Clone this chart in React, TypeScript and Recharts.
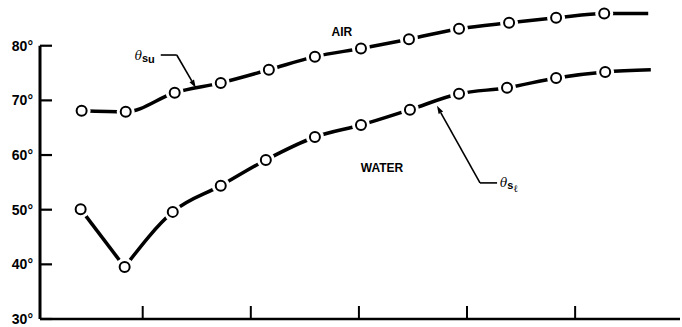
import React from 'react';
import { LineChart, Line, XAxis, YAxis, ReferenceLine, ReferenceDot } from 'recharts';

const yTicks = [30, 40, 50, 60, 70, 80];
const xTicks = [1, 2, 3, 4, 5];

const airX = [0.435, 0.843, 1.296, 1.722, 2.167, 2.593, 3.019, 3.463, 3.926, 4.389, 4.824, 5.269, 5.676];
const airY = [68.1, 67.9, 71.4, 73.2, 75.6, 78.0, 79.5, 81.2, 83.1, 84.2, 85.1, 85.9, 85.9];
const waterX = [0.426, 0.833, 1.278, 1.722, 2.139, 2.593, 3.019, 3.472, 3.926, 4.37, 4.824, 5.278, 5.7];
const waterY = [50.1, 39.5, 49.6, 54.4, 59.1, 63.3, 65.5, 68.3, 71.2, 72.3, 74.1, 75.2, 75.6];

const build = (xs: number[], ys: number[]) =>
  xs.map((x, i) => ({ x, y: ys[i], marker: i < xs.length - 1 }));

const airData = build(airX, airY);
const waterData = build(waterX, waterY);
// the water curve has a sharp minimum: draw its first leg separately
const waterLeg = waterData.slice(0, 2);
const waterRest = waterData.slice(1);

const FONT = '"Liberation Sans", Arial, Helvetica, sans-serif';
const X_MIN = 0.05;
const X_MAX = 5.97;

const Ring = (props: any) => {
  const { cx, cy, payload, index } = props;
  if (!payload || !payload.marker || cx == null || cy == null) return <g key={`e${index}`} />;
  return (
    <g key={`d${index}`}>
      <circle cx={cx} cy={cy} r={9} fill="#fff" />
      <circle cx={cx} cy={cy} r={5} fill="#fff" stroke="#000" strokeWidth={2} />
    </g>
  );
};

const YTick = (props: any) => {
  const { x, y, payload } = props;
  return (
    <g>
      <line x1={x} y1={y} x2={x + 12} y2={y} stroke="#000" strokeWidth={2.2} />
      <text x={x - 7} y={y} dy="0.36em" textAnchor="end" fontFamily={FONT} fontWeight="bold" fontSize={14} fill="#000">
        {payload.value}°
      </text>
    </g>
  );
};

const XTick = (props: any) => {
  const { x, y } = props;
  return <line x1={x} y1={y} x2={x} y2={y - 13} stroke="#000" strokeWidth={2} />;
};

const Arrow = (props: any) => {
  const { x1, y1, x2, y2 } = props;
  const dx = x2 - x1;
  const dy = y2 - y1;
  const len = Math.sqrt(dx * dx + dy * dy) || 1;
  const ux = dx / len;
  const uy = dy / len;
  const L = 8;
  const W = 2.6;
  const bx = x2 - ux * L;
  const by = y2 - uy * L;
  const p = `${x2},${y2} ${bx - uy * W},${by + ux * W} ${bx + uy * W},${by - ux * W}`;
  return (
    <g>
      <line x1={x1} y1={y1} x2={bx} y2={by} stroke="#000" strokeWidth={1.6} />
      <polygon points={p} fill="#000" />
    </g>
  );
};

const PlainLine = (props: any) => {
  const { x1, y1, x2, y2 } = props;
  return <line x1={x1} y1={y1} x2={x2} y2={y2} stroke="#000" strokeWidth={1.6} />;
};

const textShape = (content: React.ReactNode, anchor: string) => (props: any) => {
  const { cx, cy } = props;
  return (
    <text x={cx} y={cy} dy="0.36em" textAnchor={anchor} fontFamily={FONT} fontWeight="bold" fontSize={12} fill="#000">
      {content}
    </text>
  );
};

const ThetaU = (props: any) => {
  const { cx, cy } = props;
  return (
    <text x={cx} y={cy} dy="0.3em" fill="#000">
      <tspan fontFamily='"DejaVu Serif", serif' fontStyle="italic" fontSize={12}>θ</tspan>
      <tspan fontFamily={FONT} fontWeight="bold" fontSize={11} dy={2}>s</tspan>
      <tspan fontFamily={FONT} fontWeight="bold" fontSize={11} dy={1}>u</tspan>
    </text>
  );
};

const ThetaL = (props: any) => {
  const { cx, cy } = props;
  return (
    <text x={cx} y={cy} dy="0.3em" fill="#000">
      <tspan fontFamily='"DejaVu Serif", serif' fontStyle="italic" fontSize={12}>θ</tspan>
      <tspan fontFamily={FONT} fontWeight="bold" fontSize={11} dy={2}>s</tspan>
      <tspan fontFamily='"DejaVu Serif", serif' fontSize={10} dy={3}>ℓ</tspan>
    </text>
  );
};

export default function App() {
  return (
    <div style={{ position: 'absolute', left: 0, top: 0, width: 682, height: 327, background: '#fff' }}>
      <LineChart width={682} height={327} margin={{ top: 2, right: 2, bottom: 0, left: 0 }}>
        <XAxis
          type="number"
          dataKey="x"
          domain={[X_MIN, X_MAX]}
          allowDataOverflow
          ticks={xTicks}
          interval={0}
          height={8}
          tickSize={0}
          tickMargin={0}
          tick={<XTick />}
          axisLine={{ stroke: '#000', strokeWidth: 2.5 }}
        />
        <YAxis
          type="number"
          dataKey="y"
          domain={[30, 88]}
          allowDataOverflow
          ticks={yTicks}
          interval={0}
          width={40}
          tickSize={0}
          tickMargin={0}
          tick={<YTick />}
          axisLine={false}
        />
        <ReferenceLine
          segment={[{ x: X_MIN, y: 30 }, { x: X_MIN, y: 80 }]}
          stroke="#000"
          strokeWidth={3}
          ifOverflow="visible"
        />
        <Line data={airData} dataKey="y" type="monotone" stroke="#000" strokeWidth={3.5} dot={Ring} activeDot={false} isAnimationActive={false} />
        <Line data={waterLeg} dataKey="y" type="linear" stroke="#000" strokeWidth={3.5} dot={Ring} activeDot={false} isAnimationActive={false} />
        <Line data={waterRest} dataKey="y" type="monotone" stroke="#000" strokeWidth={3.5} dot={Ring} activeDot={false} isAnimationActive={false} />
        <ReferenceDot x={2.843} y={82.5} r={0} ifOverflow="visible" shape={textShape('AIR', 'middle')} />
        <ReferenceDot x={3.213} y={57.6} r={0} ifOverflow="visible" shape={textShape('WATER', 'middle')} />
        <ReferenceDot x={0.926} y={78.3} r={0} ifOverflow="visible" shape={ThetaU} />
        <ReferenceDot x={4.306} y={55.0} r={0} ifOverflow="visible" shape={ThetaL} />
        <ReferenceLine segment={[{ x: 1.167, y: 78.3 }, { x: 1.315, y: 78.3 }]} ifOverflow="visible" shape={PlainLine} />
        <ReferenceLine segment={[{ x: 1.315, y: 78.3 }, { x: 1.491, y: 72.3 }]} ifOverflow="visible" shape={Arrow} />
        <ReferenceLine segment={[{ x: 4.278, y: 54.9 }, { x: 4.12, y: 54.9 }]} ifOverflow="visible" shape={PlainLine} />
        <ReferenceLine segment={[{ x: 4.12, y: 54.9 }, { x: 3.722, y: 69.0 }]} ifOverflow="visible" shape={Arrow} />
      </LineChart>
    </div>
  );
}
